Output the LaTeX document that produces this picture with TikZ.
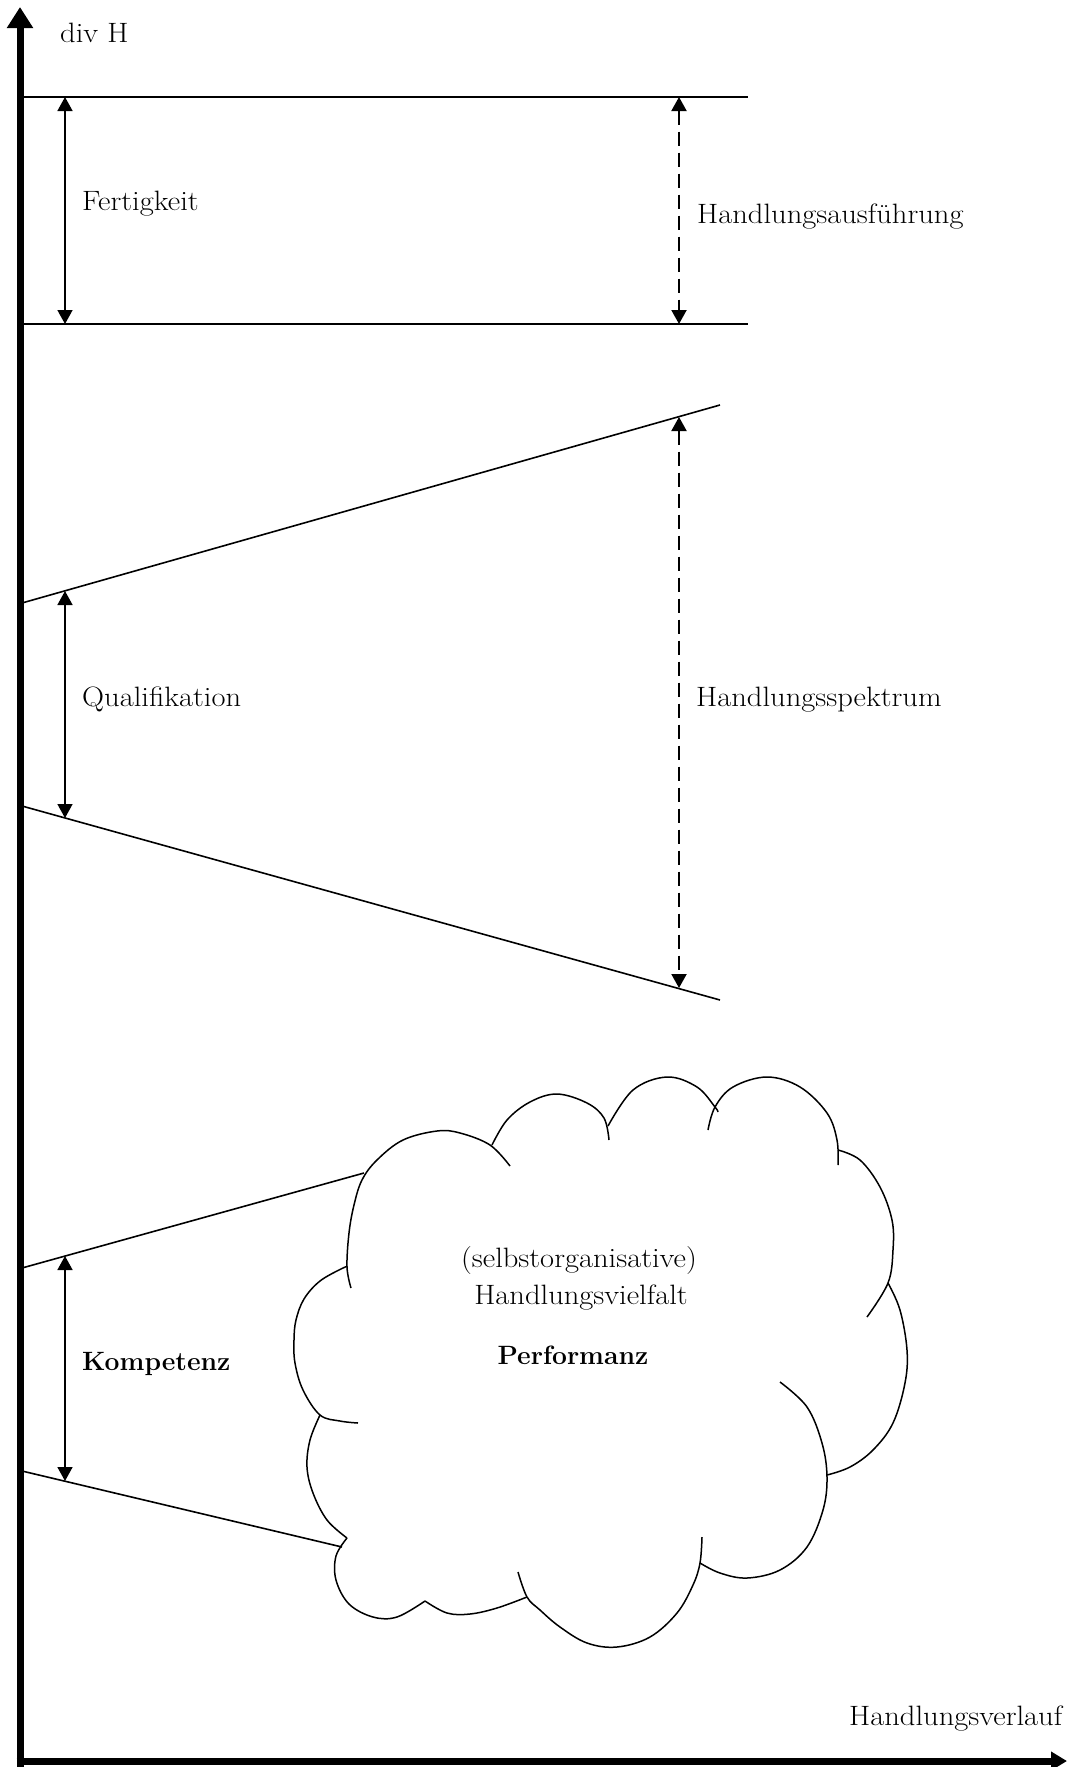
\documentclass[tikz,border=0pt]{standalone}
\usepackage{fontspec}
\newfontfamily\widefont{Latin Modern Roman}[FakeStretch=1.09]
\usetikzlibrary{arrows.meta}
\tikzset{
  lbl/.style={anchor=base west, inner sep=0pt, font=\widefont\fontsize{28}{34}\selectfont},
  clbl/.style={anchor=base, inner sep=0pt, font=\widefont\fontsize{28}{34}\selectfont},
  boldlbl/.style={inner sep=0pt, font=\fontsize{26.5}{32}\selectfont\bfseries},
  guide/.style={line width=1.6pt},
  axisline/.style={line width=7pt},
  dimarrow/.style={line width=1.6pt, {Triangle[length=14pt,width=15pt]}-{Triangle[length=14pt,width=15pt]}},
  dasharrow/.style={line width=2pt, dash pattern=on 14pt off 7pt, {Triangle[length=14pt,width=15pt]}-{Triangle[length=14pt,width=15pt]}},
  bump/.style={line width=1.5pt}
}
\begin{document}
\begin{tikzpicture}[x=1pt,y=-1pt]
\useasboundingbox (0,0) rectangle (1075,1767);
\fill[white] (0,0) rectangle (1075,1767);

% axes
\coordinate (ybot) at (20,1767);
\coordinate (ytip) at (20,7);
\coordinate (xstart) at (16.5,1761);
\coordinate (xtip) at (1067,1761);
\draw[axisline, -{Triangle[length=21pt,width=25pt]}] (ybot) -- (ytip);
\draw[axisline, -{Triangle[length=16pt,width=18pt]}] (xstart) -- (xtip);
\node[lbl] (divH) at (60,42) {div H};
\node[lbl] (hverlauf) at (849,1725) {Handlungsverlauf};

% Fertigkeit band
\coordinate (f1l) at (20,97);  \coordinate (f1r) at (748,97);
\coordinate (f2l) at (20,324); \coordinate (f2r) at (748,324);
\draw[guide] (f1l) -- (f1r);
\draw[guide] (f2l) -- (f2r);
\coordinate (fa1) at (65,97);  \coordinate (fa2) at (65,324);
\coordinate (ha1) at (679,97); \coordinate (ha2) at (679,324);
\draw[dimarrow] (fa1) -- (fa2);
\draw[dasharrow] (ha1) -- (ha2);
\node[lbl] (fert) at (82,210) {Fertigkeit};
\node[lbl] (hausf) at (697,223) {Handlungsausführung};

% Qualifikation
\coordinate (q1l) at (22,603); \coordinate (q1r) at (720,405);
\coordinate (q2l) at (22,806); \coordinate (q2r) at (720,1000);
\draw[guide] (q1l) -- (q1r);
\draw[guide] (q2l) -- (q2r);
\coordinate (qa1) at (65,591); \coordinate (qa2) at (65,818);
\coordinate (sa1) at (679,417); \coordinate (sa2) at (679,988);
\draw[dimarrow] (qa1) -- (qa2);
\draw[dasharrow] (sa1) -- (sa2);
\node[lbl] (qual) at (82,706) {Qualifikation};
\node[lbl] (hspek) at (696,706) {Handlungsspektrum};

% Kompetenz
\coordinate (k1l) at (22,1268); \coordinate (k1r) at (364,1173);
\coordinate (k2l) at (22,1471); \coordinate (k2r) at (342,1547);
\draw[guide] (k1l) -- (k1r);
\draw[guide] (k2l) -- (k2r);
\coordinate (ka1) at (65,1256); \coordinate (ka2) at (65,1481);
\draw[dimarrow] (ka1) -- (ka2);
\node[boldlbl, anchor=base west] (komp) at (82,1370) {Kompetenz};

% cloud
\draw[bump] plot[smooth, tension=0.6] coordinates {(351,1288) (347,1267) (349,1233) (354,1205) (362,1180) (377,1160) (403,1140) (437,1131) (460,1133) (490,1145) (510,1166)};
\draw[bump] plot[smooth, tension=0.6] coordinates {(492,1145) (507,1120) (530,1102) (557,1094) (587,1103) (604,1118) (609,1140)};
\draw[bump] plot[smooth, tension=0.6] coordinates {(608,1126) (633,1090) (667,1077) (697,1087) (715,1107) (718,1112)};
\draw[bump] plot[smooth, tension=0.6] coordinates {(708,1130) (715,1107) (733,1087) (767,1077) (800,1087) (827,1113) (837,1140) (838,1165)};
\draw[bump] plot[smooth, tension=0.6] coordinates {(838,1150) (860,1160) (880,1187) (892,1220) (893,1250) (888,1283) (867,1317)};
\draw[bump] plot[smooth, tension=0.6] coordinates {(888,1283) (900,1310) (907,1350) (905,1383) (893,1423) (873,1450) (850,1467) (827,1475)};
\draw[bump] plot[smooth, tension=0.6] coordinates {(780,1382) (807,1407) (822,1443) (827,1477) (823,1510) (807,1547) (780,1570) (747,1578) (720,1573) (700,1563)};
\draw[bump] plot[smooth, tension=0.6] coordinates {(702,1537) (700,1563) (693,1585) (677,1613) (650,1637) (617,1647) (587,1643) (560,1627) (540,1610) (527,1597) (518,1572)};
\draw[bump] plot[smooth, tension=0.6] coordinates {(527,1597) (497,1608) (470,1614) (447,1613) (425,1601)};
\draw[bump] plot[smooth, tension=0.6] coordinates {(425,1601) (397,1617) (373,1617) (349,1604) (336,1580) (336,1556) (347,1538)};
\draw[bump] plot[smooth, tension=0.6] coordinates {(347,1538) (327,1520) (313,1493) (307,1467) (310,1440) (320,1415)};
\draw[bump] plot[smooth, tension=0.6] coordinates {(358,1423) (340,1421) (320,1415) (303,1390) (295,1363) (294,1340) (296,1320) (304,1299) (320,1281) (343,1268) (347,1267)};

\node[clbl] (selbst) at (579,1267) {(selbstorganisative)};
\node[clbl] (hvielf) at (581,1304) {Handlungsvielfalt};
\node[boldlbl, anchor=base] (perf) at (573,1364) {Performanz};
\end{tikzpicture}
\end{document}
